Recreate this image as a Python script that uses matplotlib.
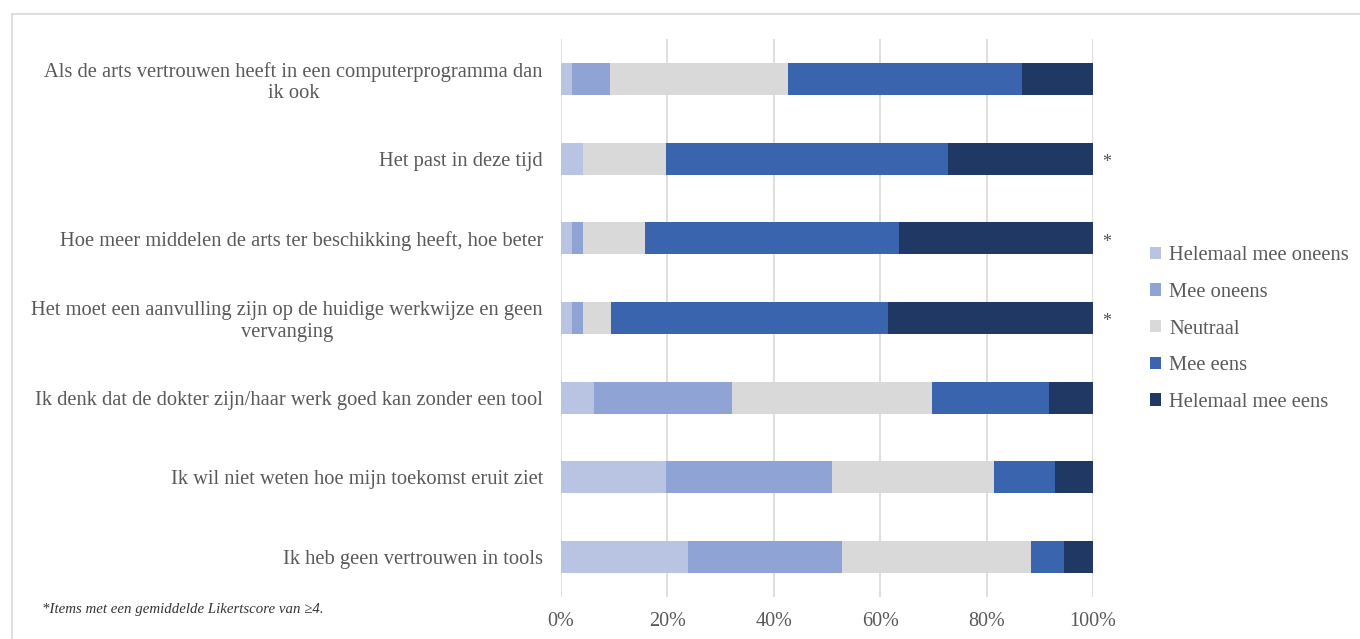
import matplotlib.pyplot as plt
from matplotlib.lines import Line2D
from matplotlib.patches import Patch

plt.rcParams['font.family'] = ['Liberation Serif', 'DejaVu Serif']

# Items (top to bottom) and percentages per answer category
items = [
    "Als de arts vertrouwen heeft in een computerprogramma dan\nik ook",
    "Het past in deze tijd",
    "Hoe meer middelen de arts ter beschikking heeft, hoe beter",
    "Het moet een aanvulling zijn op de huidige werkwijze en geen\nvervanging",
    "Ik denk dat de dokter zijn/haar werk goed kan zonder een tool",
    "Ik wil niet weten hoe mijn toekomst eruit ziet",
    "Ik heb geen vertrouwen in tools",
]
helemaal_oneens = [2.0, 4.2, 2.0, 2.0, 6.2, 19.8, 23.9]
mee_oneens = [7.3, 0.0, 2.2, 2.2, 26.0, 31.2, 29.0]
neutraal = [33.3, 15.6, 11.5, 5.2, 37.6, 30.3, 35.5]
mee_eens = [44.0, 53.0, 47.8, 52.1, 21.9, 11.6, 6.2]
helemaal_eens = [13.4, 27.2, 36.5, 38.5, 8.3, 7.1, 5.4]
significant = [False, True, True, True, False, False, False]

categories = ["Helemaal mee oneens", "Mee oneens", "Neutraal", "Mee eens", "Helemaal mee eens"]
series = [helemaal_oneens, mee_oneens, neutraal, mee_eens, helemaal_eens]
colors = ['#B9C3E2', '#8FA3D4', '#D9D9D9', '#3A64AD', '#203864']
text_color = '#595959'

fig = plt.figure(figsize=(13.6, 6.39), dpi=100)
ax = fig.add_axes([561 / 1360, 42 / 639, 532 / 1360, 558 / 639])

ypos = list(range(len(items)))
left = [0.0] * len(items)
for vals, col, name in zip(series, colors, categories):
    ax.barh(ypos, vals, left=left, height=0.4, color=col, label=name, zorder=2)
    left = [l + v for l, v in zip(left, vals)]

# significance markers
for i, sig in enumerate(significant):
    if sig:
        ax.text(102.6, i + 0.05, '*', ha='center', va='center', fontsize=13, color='#505050')

ax.set_xlim(0, 100)
ax.set_ylim(len(items) - 0.5, -0.5)
ax.set_yticks(ypos)
ax.set_yticklabels(items, fontsize=14.8, color=text_color, multialignment='center', linespacing=1.15)
ax.set_xticks([0, 20, 40, 60, 80, 100])
ax.set_xticklabels([f'{t}%' for t in [0, 20, 40, 60, 80, 100]], fontsize=14.5, color=text_color)
ax.tick_params(axis='y', length=0, pad=13)
ax.tick_params(axis='x', length=0, pad=11)
ax.grid(axis='x', color='#D9D9D9', linewidth=1.2, zorder=0)
for s in ax.spines.values():
    s.set_visible(False)

handles = [Patch(facecolor=c, edgecolor='none') for c in colors]
fig.legend(handles, categories, loc='center left', bbox_to_anchor=(1131 / 1360, (639 - 329) / 639),
           frameon=False, fontsize=14.8, handlelength=0.55, handleheight=0.55, handletextpad=0.4,
           labelspacing=0.86, labelcolor=text_color)

# footnote
fig.text(42 / 1360, (639 - 609) / 639, '*Items met een gemiddelde Likertscore van \u22654.',
         fontsize=10.7, style='italic', color='#333333', va='center')

# chart area border (partly cropped)
fig.add_artist(Line2D([12 / 1360, 1.0], [1 - 14 / 639, 1 - 14 / 639], color='#D9D9D9', linewidth=1.2))
fig.add_artist(Line2D([12 / 1360, 12 / 1360], [0.0, 1 - 14 / 639], color='#D9D9D9', linewidth=1.2))

fig.savefig('out.png', dpi=100)
